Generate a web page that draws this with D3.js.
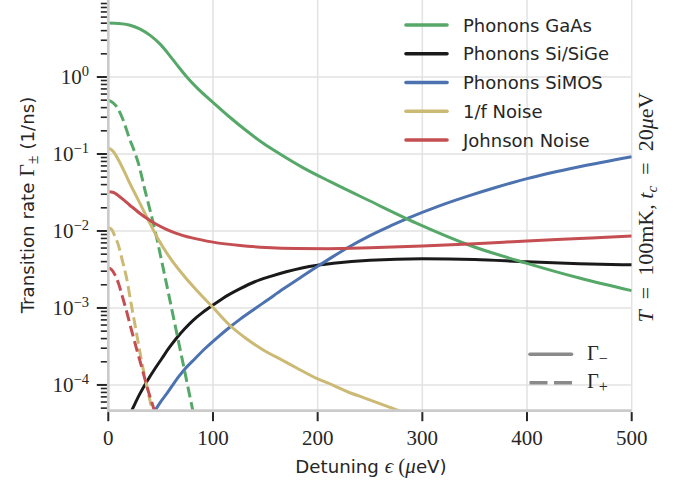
<!DOCTYPE html>
<html><head><meta charset="utf-8">
<script src="https://cdn.jsdelivr.net/npm/d3@7"></script>
<style>body{margin:0;background:#fff}svg{display:block}</style>
</head><body><svg id="c" width="686" height="487"></svg>
<script>
// ---------- data ----------
const gaasMinusEps = [0,10,20,30,40,50,60,67,75,85,100,115,132,148,164,185,212,250,298,345,400,450,500];
const gaasMinus = [5.01,4.95,4.73,4.22,3.47,2.63,1.80,1.36,1.0,0.716,0.468,0.309,0.200,0.138,0.100,0.0676,0.0437,0.0245,0.0120,0.00653,0.0038,0.00245,0.00168];
const gaasPlusEps = [0,4,8,14,20.7,24,28.7,35,44.6,54,65,73,80,88];
const gaasPlus = [0.50,0.468,0.411,0.28,0.152,0.117,0.076,0.034,0.0102,0.0026,5.0e-4,1.5e-4,5.2e-5,1.6e-5];
const sigeEps = [18,22.4,30,36.7,45,51,58,65.3,73,81,89,97,110,126,140,155,170,185,200,215,250,300,350,400,450,500];
const sigeMinus = [3.55e-5,4.68e-5,7.59e-5,1.10e-4,1.66e-4,2.19e-4,3.02e-4,4.07e-4,5.37e-4,6.92e-4,8.51e-4,1.02e-3,1.35e-3,1.78e-3,2.19e-3,2.57e-3,2.95e-3,3.31e-3,3.59e-3,3.80e-3,4.17e-3,4.37e-3,4.27e-3,3.98e-3,3.76e-3,3.63e-3];
const simosEps = [40,44.6,50,56,62,68,73,83,93,105,116,126,140,151,167,183,200,215,229,250,270,287,315,345,370,400,450,500];
const simosMinus = [3.55e-5,4.63e-5,6.03e-5,7.76e-5,1.02e-4,1.32e-4,1.60e-4,2.21e-4,3.02e-4,4.22e-4,5.62e-4,7.16e-4,9.77e-4,1.24e-3,1.76e-3,2.45e-3,3.47e-3,4.68e-3,6.10e-3,8.71e-3,0.0117,0.0148,0.0209,0.0288,0.0367,0.0479,0.0684,0.0923];
const fMinusEps = [0,5,10,15,20,25,30,38,48,60,73,85,99,116,132,148,165,180,200,215,228,245,260,277,300];
const fMinus = [0.120,0.107,0.0822,0.0603,0.0432,0.0316,0.0232,0.0140,0.00767,0.00427,0.00254,0.00166,0.00105,5.96e-4,3.98e-4,2.85e-4,2.14e-4,1.66e-4,1.20e-4,9.89e-5,8.22e-5,6.76e-5,5.69e-5,4.68e-5,3.63e-5];
const fPlusEps = [0,3,6.4,10,12.8,15,17.6,21.5,25.5,28.7,31.9,34.3,36.7,41.4,46];
const fPlus = [0.0111,0.0105,0.00851,0.00631,0.00447,0.00339,0.0024,0.0012,6.03e-4,3.47e-4,2.0e-4,1.38e-4,9.77e-5,5.01e-5,2.63e-5];
const johnMinusEps = [0,5,10,15,20,25,30,37,45,55,65,80,100,126,151,180,210,250,300,350,400,450,500];
const johnMinus = [0.0324,0.0316,0.0285,0.0251,0.0219,0.0193,0.0170,0.0145,0.0124,0.0106,0.00933,0.00813,0.00716,0.00646,0.0061,0.00592,0.00589,0.00605,0.00638,0.00684,0.00741,0.00798,0.00861];
const johnPlusEps = [0,3,6.4,10,12.8,17.6,22.4,27,31.9,38.2,44.6,48];
const johnPlus = [3.31e-3,3.16e-3,2.69e-3,2.04e-3,1.51e-3,8.91e-4,5.01e-4,2.95e-4,1.70e-4,8.32e-5,4.37e-5,3.02e-5];

const legendLabels = ["Phonons GaAs","Phonons Si/SiGe","Phonons SiMOS","1/f Noise","Johnson Noise"];
const legendColors = ["#55a868","#1a1a1a","#4c72b0","#ccb974","#c44e52"];
const xTicks = [0,100,200,300,400,500];
const yTickExps = [-4,-3,-2,-1,0];

// ---------- layout ----------
const L = 108.3, R = 631.7, T = 0, B = 410.7;
const yMin = 4.63e-5, yMax = 10;
const SANS = "DejaVu Sans", SERIF = "Liberation Serif";
const INK = "#262626";

const svg = d3.select("#c");
const x = d3.scaleLinear().domain([0,500]).range([L,R]);
const y = d3.scaleLog().domain([yMin,yMax]).range([B,T]);

// grid
const grid = svg.append("g").attr("stroke","#e2e2e2").attr("stroke-width",1.5);
grid.selectAll("line.v").data(xTicks.slice(1)).join("line")
  .attr("x1",d=>x(d)).attr("x2",d=>x(d)).attr("y1",T).attr("y2",B);
grid.selectAll("line.h").data(yTickExps.map(e=>Math.pow(10,e))).join("line")
  .attr("x1",L).attr("x2",R).attr("y1",d=>y(d)).attr("y2",d=>y(d));

// clip
svg.append("clipPath").attr("id","clip").append("rect")
  .attr("x",L).attr("y",T).attr("width",R-L).attr("height",B-T);

const line = d3.line().x(d=>x(d[0])).y(d=>y(d[1])).curve(d3.curveMonotoneX);
const zip = (a,b)=>a.map((v,i)=>[v,b[i]]);
const series = [
  {e:sigeEps, v:sigeMinus, c:legendColors[1], dash:null},
  {e:simosEps, v:simosMinus, c:legendColors[2], dash:null},
  {e:gaasMinusEps, v:gaasMinus, c:legendColors[0], dash:null},
  {e:gaasPlusEps, v:gaasPlus, c:legendColors[0], dash:"11,4.8"},
  {e:fMinusEps, v:fMinus, c:legendColors[3], dash:null},
  {e:fPlusEps, v:fPlus, c:legendColors[3], dash:"11,4.8"},
  {e:johnMinusEps, v:johnMinus, c:legendColors[4], dash:null},
  {e:johnPlusEps, v:johnPlus, c:legendColors[4], dash:"11,4.8"},
];
const plot = svg.append("g").attr("clip-path","url(#clip)");
plot.selectAll("path").data(series).join("path")
  .attr("d",d=>line(zip(d.e,d.v)))
  .attr("fill","none").attr("stroke",d=>d.c).attr("stroke-width",3)
  .attr("stroke-dasharray",d=>d.dash);

// spines
svg.append("line").attr("x1",L).attr("x2",L).attr("y1",T).attr("y2",B+1.3)
  .attr("stroke","#cbcbcb").attr("stroke-width",2.7);
svg.append("line").attr("x1",L-1.3).attr("x2",R).attr("y1",B).attr("y2",B)
  .attr("stroke","#cbcbcb").attr("stroke-width",2.7);

// x ticks
const xt = svg.append("g");
xt.selectAll("line").data(xTicks).join("line")
  .attr("x1",d=>x(d)).attr("x2",d=>x(d)).attr("y1",B+1.4).attr("y2",B+10.5)
  .attr("stroke",INK).attr("stroke-width",2);
xt.selectAll("text").data(xTicks).join("text")
  .attr("x",d=>x(d)).attr("y",445).attr("text-anchor","middle")
  .attr("font-family",SERIF).attr("font-size",21).attr("fill",INK)
  .text(d=>d);

// y ticks
const yt = svg.append("g");
const minors = [];
for (let e=-5;e<=0;e++) for (let m=2;m<=9;m++){ const v=m*Math.pow(10,e); if(v>=yMin && v<=yMax) minors.push(v); }
yt.selectAll("line.mi").data(minors).join("line").attr("class","mi")
  .attr("x1",L-7.5).attr("x2",L-1.4).attr("y1",d=>y(d)).attr("y2",d=>y(d))
  .attr("stroke",INK).attr("stroke-width",1.6);
yt.selectAll("line.ma").data(yTickExps).join("line").attr("class","ma")
  .attr("x1",L-11.5).attr("x2",L-1.4).attr("y1",d=>y(Math.pow(10,d))).attr("y2",d=>y(Math.pow(10,d)))
  .attr("stroke",INK).attr("stroke-width",2);
const ytl = yt.selectAll("text").data(yTickExps).join("text")
  .attr("x",89).attr("y",d=>y(Math.pow(10,d))+7.5).attr("text-anchor","end")
  .attr("font-family",SERIF).attr("font-size",21).attr("fill",INK);
ytl.append("tspan").text("10");
ytl.append("tspan").attr("font-size",14.5).attr("dy",-8).text(d=>d<0?"\u2212"+(-d):String(d));

// axis labels
const xl = svg.append("text").attr("x",371).attr("y",473).attr("text-anchor","middle")
  .attr("font-family",SANS).attr("font-size",18.2).attr("fill",INK);
xl.append("tspan").text("Detuning\u00a0");
xl.append("tspan").attr("font-family",SERIF).attr("font-style","italic").attr("font-size",21).text("\u03f5");
xl.append("tspan").attr("font-family",SERIF).attr("font-size",21).text("\u00a0(");
xl.append("tspan").attr("font-family",SERIF).attr("font-style","italic").attr("font-size",21).text("\u03bc");
xl.append("tspan").text("eV)");

const yl = svg.append("text").attr("transform","translate(34,205) rotate(-90)").attr("text-anchor","middle")
  .attr("font-family",SANS).attr("font-size",18.2).attr("fill",INK);
yl.append("tspan").text("Transition rate\u00a0");
yl.append("tspan").attr("font-family",SERIF).attr("font-size",22).text("\u0393");
yl.append("tspan").attr("font-family",SERIF).attr("font-size",16).attr("dy",4).text("\u00b1");
yl.append("tspan").attr("dy",-4).text("\u00a0(1/ns)");

const rl = svg.append("text").attr("transform","translate(652.5,207.5) rotate(-90)").attr("text-anchor","middle")
  .attr("font-family",SERIF).attr("font-size",22).attr("fill",INK);
rl.append("tspan").attr("font-style","italic").text("T");
rl.append("tspan").text("\u2005\u00a0=\u00a0\u2005100mK,\u00a0");
rl.append("tspan").attr("font-style","italic").text("t");
rl.append("tspan").attr("font-style","italic").attr("font-size",15.5).attr("dy",4).text("c");
rl.append("tspan").attr("dy",-4).text("\u2005\u00a0=\u00a0\u200520");
rl.append("tspan").attr("font-style","italic").text("\u03bc");
rl.append("tspan").text("eV");

// legend 1
const lg = svg.append("g");
const rowY = i => 25 + i*28.75;
lg.selectAll("line").data(legendLabels).join("line")
  .attr("x1",406).attr("x2",447).attr("y1",(d,i)=>rowY(i)).attr("y2",(d,i)=>rowY(i))
  .attr("stroke",(d,i)=>legendColors[i]).attr("stroke-width",3.6).attr("stroke-linecap","round");
lg.selectAll("text").data(legendLabels).join("text")
  .attr("x",463).attr("y",(d,i)=>rowY(i)+6.5)
  .attr("font-family",SANS).attr("font-size",18).attr("fill",INK).text(d=>d);

// legend 2
const g2 = svg.append("g");
g2.append("line").attr("x1",530).attr("x2",571.5).attr("y1",354.3).attr("y2",354.3)
  .attr("stroke","#8a8a8a").attr("stroke-width",3.6).attr("stroke-linecap","round");
g2.append("line").attr("x1",529.5).attr("x2",572).attr("y1",382.7).attr("y2",382.7)
  .attr("stroke","#8a8a8a").attr("stroke-width",3.6).attr("stroke-dasharray","18,6.5");
const t1 = g2.append("text").attr("x",587).attr("y",359.5).attr("font-family",SERIF).attr("font-size",20.5).attr("fill",INK);
t1.append("tspan").text("\u0393");
t1.append("tspan").attr("font-size",16).attr("dy",4).text("\u2212");
const t2 = g2.append("text").attr("x",587).attr("y",388).attr("font-family",SERIF).attr("font-size",20.5).attr("fill",INK);
t2.append("tspan").text("\u0393");
t2.append("tspan").attr("font-size",16).attr("dy",4).text("+");
</script>
</body></html>
